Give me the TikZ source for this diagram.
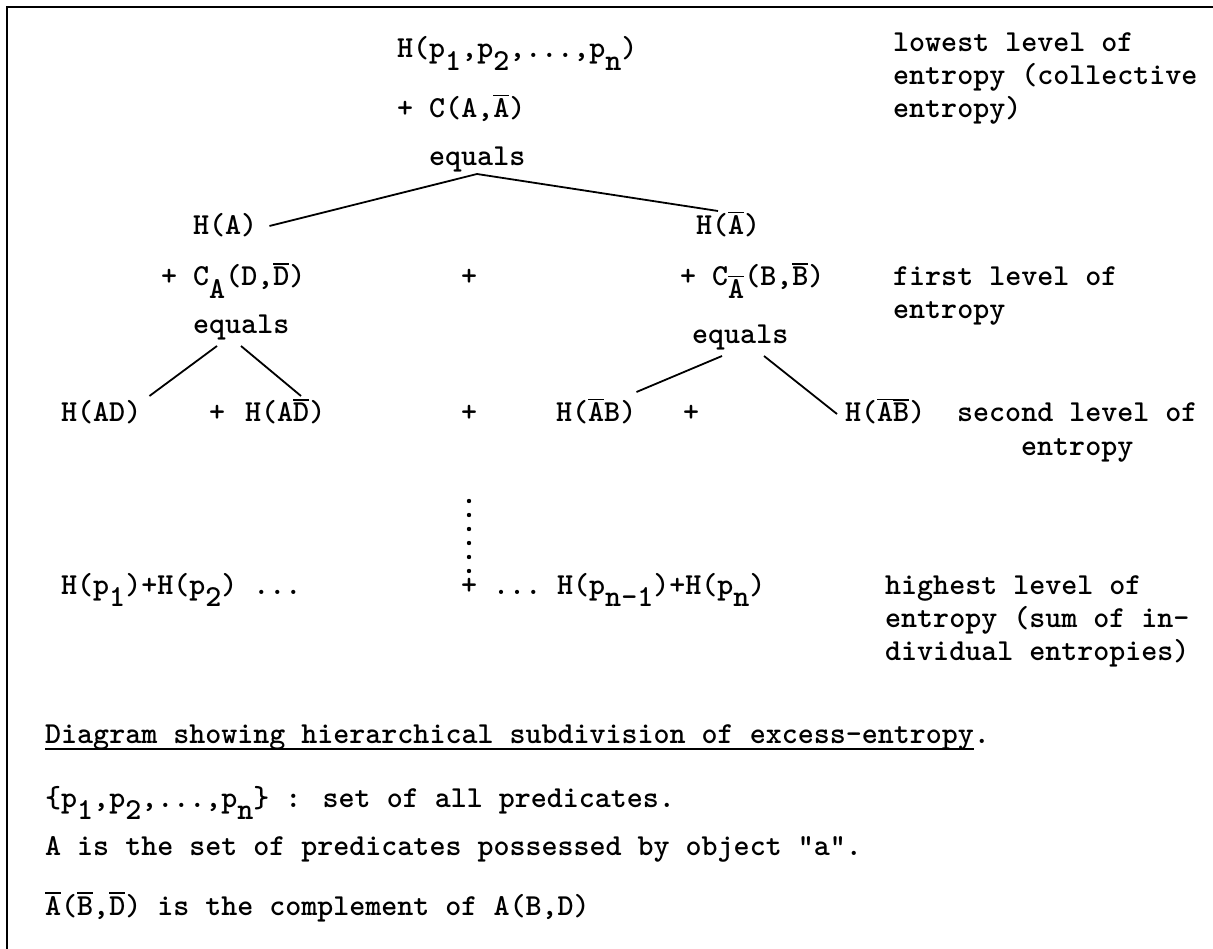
\documentclass[tikz,border=0pt]{standalone}
\usetikzlibrary{calc}
\newcommand\tw{\fontfamily{lmtt}\fontseries{b}\fontsize{30.5}{33}\selectfont}
\newcommand\lo[1]{\raisebox{-0.42em}{#1}}
\newcommand\ob[1]{\leavevmode\vbox{\hrule height 1.6pt\kern 2.5pt\hbox{#1}}}
\newcommand\ul[1]{\setbox0\hbox{#1}\rlap{\rule[-7pt]{\wd0}{1.6pt}}\box0}
\begin{document}
\begin{tikzpicture}[x=1pt,y=-1pt,
  t/.style={anchor=base west,inner sep=0pt,font=\tw},
  conn/.style={line width=1.8pt},
  frame/.style={line width=1.4pt}]
\useasboundingbox (0,0) rectangle (1213,949);
\fill[white] (0,0) rectangle (1213,949);
\draw[frame] (7,949) -- (7,7) -- (1213,7);

% top level
\node[t] (h0) at (397,58) {H(p\lo{1},p\lo{2},...,p\lo{n})};
\node[t] (c0) at (397,118) {+ C(A,\ob{A})};
\node[t] (eq0) at (429,166) {equals};
\node[t] (l0a) at (893,52) {lowest level of};
\node[t] (l0b) at (893,85) {entropy (collective};
\node[t] (l0c) at (893,118) {entropy)};

% first level
\node[t] (ha) at (193,235) {H(A)};
\node[t] (hna) at (696,235) {H(\ob{A})};
\node[t] (ca) at (161,286) {+ C\lo{A}(D,\ob{D})};
\node[t] (p1) at (461,286) {+};
\node[t] (cna) at (680,286) {+ C\lo{\ob{A}}(B,\ob{B})};
\node[t] (l1a) at (893,286) {first level of};
\node[t] (l1b) at (893,319) {entropy};
\node[t] (eq1) at (193,334) {equals};
\node[t] (eq2) at (692,344) {equals};

% second level
\node[t] (had) at (61,422) {H(AD)};
\node[t] (p2a) at (209,422) {+};
\node[t] (hand) at (245,422) {H(A\ob{D})};
\node[t] (p2b) at (461,422) {+};
\node[t] (hnab) at (556,422) {H(\ob{A}B)};
\node[t] (p2c) at (683,422) {+};
\node[t] (hnanb) at (845,422) {H(\ob{A}\ob{B})};
\node[t] (l2a) at (957,422) {second level of};
\node[t] (l2b) at (1021,455) {entropy};

% vertical dots
\foreach \y in {501,515,529,543,557,571}
  \fill (469,\y) circle (2.2pt);

% highest level
\node[t] (h3a) at (61,594) {H(p\lo{1})+H(p\lo{2}) ...};
\node[t] (h3b) at (461,594) {+ ...};
\node[t] (h3c) at (557,594) {H(p\lo{n-1})+H(p\lo{n})};
\node[t] (l3a) at (885,594) {highest level of};
\node[t] (l3b) at (885,627) {entropy (sum of in-};
\node[t] (l3c) at (885,660) {dividual entropies)};

% connectors
\coordinate (apex0) at ($(eq0.base west)+(48,8)$);
\draw[conn] (apex0) -- ($(ha.base east)+(12,-9)$);
\draw[conn] (apex0) -- ($(hna.base west)+(22,-24)$);
\draw[conn] ($(eq1.base west)+(24,12)$) -- ($(had.base east)+(8,-26)$);
\draw[conn] ($(eq1.base west)+(48,12)$) -- ($(hand.base west)+(56,-26)$);
\draw[conn] ($(eq2.base west)+(30,12)$) -- ($(hnab.base east)+(0,-30)$);
\draw[conn] ($(eq2.base west)+(72,12)$) -- ($(hnanb.base west)+(-8,-8)$);

% caption and notes
\node[t] (cap) at (45,743) {\ul{Diagram showing hierarchical subdivision of excess-entropy}.};
\node[t] (n1) at (45,807) {\{p\lo{1},p\lo{2},...,p\lo{n}\} : set of all predicates.};
\node[t] (n2) at (45,855) {A is the set of predicates possessed by object "a".};
\node[t] (n3) at (45,915) {\ob{A}(\ob{B},\ob{D}) is the complement of A(B,D)};
\end{tikzpicture}
\end{document}
